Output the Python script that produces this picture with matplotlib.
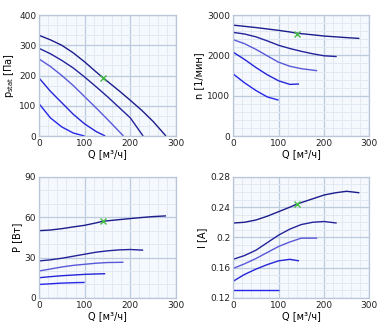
import numpy as np
import matplotlib.pyplot as plt
from matplotlib.ticker import MultipleLocator, AutoMinorLocator, FuncFormatter

# values, one list per fan speed step
q1 = [0, 25, 50, 75, 100, 125, 140, 175, 200, 225, 250, 278]
q2 = [0, 25, 50, 75, 100, 125, 150, 175, 200, 228]
q3 = [0, 25, 50, 75, 100, 125, 150, 185]
q4 = [0, 25, 50, 75, 100, 125, 145]
q5 = [0, 25, 50, 75, 100]
q_list = [q1, q2, q3, q4, q5]

pstat = [
    [333, 318, 300, 275, 245, 212, 193, 150, 118, 85, 48, 0],
    [290, 272, 250, 225, 195, 163, 130, 95, 60, 0],
    [255, 230, 200, 167, 130, 93, 55, 0],
    [192, 148, 110, 72, 40, 15, 0],
    [107, 60, 30, 10, 0],
]
rpm = [
    [2750, 2720, 2690, 2655, 2620, 2580, 2550, 2510, 2480, 2460, 2440, 2420],
    [2570, 2530, 2460, 2360, 2250, 2170, 2100, 2040, 1990, 1970],
    [2390, 2290, 2150, 1990, 1830, 1730, 1670, 1620],
    [2080, 1900, 1700, 1520, 1370, 1280, 1290],
    [1540, 1320, 1130, 970, 890],
]
power = [
    [50, 50.5, 51.5, 52.8, 54, 55.8, 57, 58.2, 59, 59.8, 60.5, 61],
    [27.5, 28.3, 29.5, 31, 32.5, 34, 35, 35.7, 36, 35.5],
    [20, 21.5, 23, 24.2, 25, 25.8, 26.3, 26.5],
    [15, 15.8, 16.5, 17, 17.5, 17.8, 18],
    [10, 10.5, 11, 11.3, 11.5],
]
current = [
    [0.219, 0.220, 0.223, 0.228, 0.234, 0.240, 0.244, 0.251, 0.256, 0.259, 0.261, 0.259],
    [0.171, 0.176, 0.183, 0.193, 0.203, 0.211, 0.217, 0.220, 0.221, 0.219],
    [0.159, 0.165, 0.172, 0.180, 0.188, 0.194, 0.199, 0.199],
    [0.142, 0.151, 0.158, 0.164, 0.169, 0.171, 0.169],
    [0.131, 0.131, 0.131, 0.131, 0.131],
]

op_q = 140
op_vals = [193, 2540, 57, 0.244]

line_colors = ['#1c1c8c', '#23239a', '#5858d8', '#2424d8', '#2626ea']

panels = [
    (pstat, 'p$_\\mathregular{stat}$ [Па]', (0, 400), 100, 3),
    (rpm, 'n [1/мин]', (0, 3000), 1000, 5),
    (power, 'P [Вт]', (0, 90), 30, 3),
    (current, 'I [A]', (0.12, 0.28), 0.04, 4),
]
positions = [
    [0.101, 0.584, 0.355, 0.370],
    [0.604, 0.584, 0.353, 0.370],
    [0.101, 0.089, 0.355, 0.370],
    [0.604, 0.089, 0.353, 0.370],
]

plt.rcParams['font.family'] = ['DejaVu Sans']
plt.rcParams['font.size'] = 6.5

fig = plt.figure(figsize=(3.86, 3.27), dpi=100)

for (data, ylabel, ylim, ystep, yminor), pos, opv in zip(panels, positions, op_vals):
    ax = fig.add_axes(pos)
    ax.set_facecolor('#f5f8fc')
    for q, vals, c in zip(q_list, data, line_colors):
        ax.plot(q, vals, color=c, lw=1.0, solid_capstyle='butt')
    ax.plot([op_q], [opv], marker='x', color='#44bb44', ms=5, mew=1.0, zorder=5)

    ax.set_xlim(0, 300)
    ax.set_ylim(*ylim)
    ax.xaxis.set_major_locator(MultipleLocator(100))
    ax.yaxis.set_major_locator(MultipleLocator(ystep))
    ax.xaxis.set_minor_locator(AutoMinorLocator(5))
    ax.yaxis.set_minor_locator(AutoMinorLocator(yminor))
    ax.yaxis.set_major_formatter(FuncFormatter(lambda v, p: '%g' % round(v, 4)))
    ax.grid(which='major', color='#bccbdd', lw=0.9)
    ax.grid(which='minor', color='#e2e9f3', lw=0.7)
    ax.set_axisbelow(True)
    ax.tick_params(which='both', length=0, pad=2, labelsize=6.5, colors='#222222')
    for s in ax.spines.values():
        s.set_color('#b8c6d8')
        s.set_linewidth(0.9)
    ax.set_xlabel('Q [м³/ч]', fontsize=7, labelpad=1)
    ax.set_ylabel(ylabel, fontsize=7, labelpad=2)

fig.savefig('out.png', dpi=100)
